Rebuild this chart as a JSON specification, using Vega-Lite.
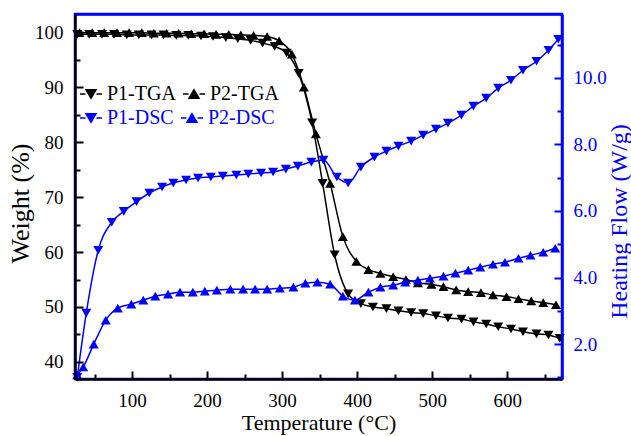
{
  "$schema": "https://vega.github.io/schema/vega-lite/v6.json",
  "width": 487,
  "height": 365,
  "autosize": {"type": "none"},
  "padding": {"left": 75, "top": 14, "right": 69, "bottom": 57},
  "background": "white",
  "config": {
    "view": {"stroke": "#0000ff", "strokeWidth": 2.5},
    "font": "Liberation Serif",
    "axis": {"grid": false, "labelFont": "Liberation Serif", "titleFont": "Liberation Serif", "labelFontSize": 19, "titleFontWeight": "normal", "domainWidth": 2.5, "tickWidth": 2},
    "legend": {"orient": "none", "direction": "horizontal", "labelFont": "Liberation Serif", "labelFontSize": 20, "symbolSize": 100, "symbolStrokeWidth": 1.5, "labelOffset": 6, "columnPadding": 4, "padding": 0}
  },
  "datasets": {
    "tga": [
      {"s": "P1-TGA", "T": 27, "v": 99.6}, {"s": "P1-TGA", "T": 43, "v": 99.6}, {"s": "P1-TGA", "T": 60, "v": 99.6}, {"s": "P1-TGA", "T": 76, "v": 99.6}, {"s": "P1-TGA", "T": 93, "v": 99.5}, {"s": "P1-TGA", "T": 109, "v": 99.5}, {"s": "P1-TGA", "T": 126, "v": 99.5}, {"s": "P1-TGA", "T": 142, "v": 99.5}, {"s": "P1-TGA", "T": 159, "v": 99.4}, {"s": "P1-TGA", "T": 175, "v": 99.4}, {"s": "P1-TGA", "T": 192, "v": 99.3}, {"s": "P1-TGA", "T": 208, "v": 99.2}, {"s": "P1-TGA", "T": 225, "v": 99.0}, {"s": "P1-TGA", "T": 241, "v": 98.8}, {"s": "P1-TGA", "T": 258, "v": 98.5}, {"s": "P1-TGA", "T": 274, "v": 98.0}, {"s": "P1-TGA", "T": 290, "v": 97.4}, {"s": "P1-TGA", "T": 306, "v": 96.2}, {"s": "P1-TGA", "T": 322, "v": 92.5}, {"s": "P1-TGA", "T": 340, "v": 83.5}, {"s": "P1-TGA", "T": 354, "v": 72.5}, {"s": "P1-TGA", "T": 370, "v": 59.5}, {"s": "P1-TGA", "T": 388, "v": 52.4}, {"s": "P1-TGA", "T": 405, "v": 50.6}, {"s": "P1-TGA", "T": 421, "v": 50.0}, {"s": "P1-TGA", "T": 439, "v": 49.7}, {"s": "P1-TGA", "T": 455, "v": 49.3}, {"s": "P1-TGA", "T": 472, "v": 49.0}, {"s": "P1-TGA", "T": 488, "v": 48.8}, {"s": "P1-TGA", "T": 505, "v": 48.4}, {"s": "P1-TGA", "T": 521, "v": 48.0}, {"s": "P1-TGA", "T": 539, "v": 47.8}, {"s": "P1-TGA", "T": 555, "v": 47.3}, {"s": "P1-TGA", "T": 572, "v": 46.9}, {"s": "P1-TGA", "T": 588, "v": 46.4}, {"s": "P1-TGA", "T": 605, "v": 46.0}, {"s": "P1-TGA", "T": 621, "v": 45.5}, {"s": "P1-TGA", "T": 639, "v": 45.1}, {"s": "P1-TGA", "T": 655, "v": 44.9}, {"s": "P1-TGA", "T": 670, "v": 44.3},
      {"s": "P2-TGA", "T": 30, "v": 99.9}, {"s": "P2-TGA", "T": 47, "v": 99.9}, {"s": "P2-TGA", "T": 63, "v": 99.9}, {"s": "P2-TGA", "T": 80, "v": 99.9}, {"s": "P2-TGA", "T": 96, "v": 99.9}, {"s": "P2-TGA", "T": 113, "v": 99.9}, {"s": "P2-TGA", "T": 129, "v": 99.8}, {"s": "P2-TGA", "T": 146, "v": 99.8}, {"s": "P2-TGA", "T": 162, "v": 99.8}, {"s": "P2-TGA", "T": 179, "v": 99.7}, {"s": "P2-TGA", "T": 196, "v": 99.7}, {"s": "P2-TGA", "T": 212, "v": 99.6}, {"s": "P2-TGA", "T": 229, "v": 99.6}, {"s": "P2-TGA", "T": 245, "v": 99.5}, {"s": "P2-TGA", "T": 262, "v": 99.4}, {"s": "P2-TGA", "T": 280, "v": 99.2}, {"s": "P2-TGA", "T": 296, "v": 98.4}, {"s": "P2-TGA", "T": 313, "v": 96.0}, {"s": "P2-TGA", "T": 329, "v": 90.0}, {"s": "P2-TGA", "T": 345, "v": 81.5}, {"s": "P2-TGA", "T": 364, "v": 72.5}, {"s": "P2-TGA", "T": 381, "v": 62.8}, {"s": "P2-TGA", "T": 399, "v": 58.3}, {"s": "P2-TGA", "T": 415, "v": 56.8}, {"s": "P2-TGA", "T": 431, "v": 56.1}, {"s": "P2-TGA", "T": 448, "v": 55.5}, {"s": "P2-TGA", "T": 465, "v": 55.0}, {"s": "P2-TGA", "T": 481, "v": 54.4}, {"s": "P2-TGA", "T": 499, "v": 54.1}, {"s": "P2-TGA", "T": 515, "v": 53.7}, {"s": "P2-TGA", "T": 532, "v": 53.1}, {"s": "P2-TGA", "T": 548, "v": 52.8}, {"s": "P2-TGA", "T": 565, "v": 52.6}, {"s": "P2-TGA", "T": 581, "v": 52.2}, {"s": "P2-TGA", "T": 599, "v": 51.9}, {"s": "P2-TGA", "T": 615, "v": 51.5}, {"s": "P2-TGA", "T": 632, "v": 51.1}, {"s": "P2-TGA", "T": 648, "v": 50.8}, {"s": "P2-TGA", "T": 665, "v": 50.4}
    ],
    "dsc": [
      {"s": "P1-DSC", "T": 27, "v": 1.0}, {"s": "P1-DSC", "T": 39, "v": 2.93}, {"s": "P1-DSC", "T": 55, "v": 4.82}, {"s": "P1-DSC", "T": 73, "v": 5.66}, {"s": "P1-DSC", "T": 89, "v": 5.99}, {"s": "P1-DSC", "T": 106, "v": 6.28}, {"s": "P1-DSC", "T": 123, "v": 6.54}, {"s": "P1-DSC", "T": 140, "v": 6.72}, {"s": "P1-DSC", "T": 155, "v": 6.84}, {"s": "P1-DSC", "T": 172, "v": 6.93}, {"s": "P1-DSC", "T": 188, "v": 6.99}, {"s": "P1-DSC", "T": 205, "v": 7.02}, {"s": "P1-DSC", "T": 221, "v": 7.05}, {"s": "P1-DSC", "T": 239, "v": 7.08}, {"s": "P1-DSC", "T": 255, "v": 7.11}, {"s": "P1-DSC", "T": 272, "v": 7.14}, {"s": "P1-DSC", "T": 288, "v": 7.17}, {"s": "P1-DSC", "T": 305, "v": 7.26}, {"s": "P1-DSC", "T": 321, "v": 7.35}, {"s": "P1-DSC", "T": 339, "v": 7.47}, {"s": "P1-DSC", "T": 355, "v": 7.53}, {"s": "P1-DSC", "T": 373, "v": 7.02}, {"s": "P1-DSC", "T": 388, "v": 6.84}, {"s": "P1-DSC", "T": 405, "v": 7.32}, {"s": "P1-DSC", "T": 423, "v": 7.62}, {"s": "P1-DSC", "T": 439, "v": 7.8}, {"s": "P1-DSC", "T": 455, "v": 7.95}, {"s": "P1-DSC", "T": 472, "v": 8.1}, {"s": "P1-DSC", "T": 488, "v": 8.28}, {"s": "P1-DSC", "T": 505, "v": 8.46}, {"s": "P1-DSC", "T": 521, "v": 8.64}, {"s": "P1-DSC", "T": 539, "v": 8.88}, {"s": "P1-DSC", "T": 555, "v": 9.15}, {"s": "P1-DSC", "T": 572, "v": 9.39}, {"s": "P1-DSC", "T": 588, "v": 9.69}, {"s": "P1-DSC", "T": 605, "v": 9.93}, {"s": "P1-DSC", "T": 621, "v": 10.23}, {"s": "P1-DSC", "T": 639, "v": 10.5}, {"s": "P1-DSC", "T": 655, "v": 10.83}, {"s": "P1-DSC", "T": 668, "v": 11.16},
      {"s": "P2-DSC", "T": 27, "v": 1.07}, {"s": "P2-DSC", "T": 35, "v": 1.31}, {"s": "P2-DSC", "T": 49, "v": 2.0}, {"s": "P2-DSC", "T": 65, "v": 2.72}, {"s": "P2-DSC", "T": 81, "v": 3.08}, {"s": "P2-DSC", "T": 99, "v": 3.2}, {"s": "P2-DSC", "T": 115, "v": 3.32}, {"s": "P2-DSC", "T": 131, "v": 3.44}, {"s": "P2-DSC", "T": 148, "v": 3.5}, {"s": "P2-DSC", "T": 164, "v": 3.56}, {"s": "P2-DSC", "T": 181, "v": 3.56}, {"s": "P2-DSC", "T": 197, "v": 3.59}, {"s": "P2-DSC", "T": 213, "v": 3.62}, {"s": "P2-DSC", "T": 231, "v": 3.65}, {"s": "P2-DSC", "T": 248, "v": 3.65}, {"s": "P2-DSC", "T": 264, "v": 3.65}, {"s": "P2-DSC", "T": 280, "v": 3.65}, {"s": "P2-DSC", "T": 297, "v": 3.68}, {"s": "P2-DSC", "T": 315, "v": 3.71}, {"s": "P2-DSC", "T": 331, "v": 3.83}, {"s": "P2-DSC", "T": 347, "v": 3.86}, {"s": "P2-DSC", "T": 364, "v": 3.8}, {"s": "P2-DSC", "T": 381, "v": 3.44}, {"s": "P2-DSC", "T": 397, "v": 3.32}, {"s": "P2-DSC", "T": 415, "v": 3.56}, {"s": "P2-DSC", "T": 431, "v": 3.71}, {"s": "P2-DSC", "T": 448, "v": 3.77}, {"s": "P2-DSC", "T": 464, "v": 3.86}, {"s": "P2-DSC", "T": 481, "v": 3.92}, {"s": "P2-DSC", "T": 497, "v": 3.98}, {"s": "P2-DSC", "T": 515, "v": 4.04}, {"s": "P2-DSC", "T": 531, "v": 4.13}, {"s": "P2-DSC", "T": 548, "v": 4.22}, {"s": "P2-DSC", "T": 564, "v": 4.31}, {"s": "P2-DSC", "T": 581, "v": 4.4}, {"s": "P2-DSC", "T": 597, "v": 4.46}, {"s": "P2-DSC", "T": 615, "v": 4.58}, {"s": "P2-DSC", "T": 631, "v": 4.67}, {"s": "P2-DSC", "T": 648, "v": 4.76}, {"s": "P2-DSC", "T": 664, "v": 4.88}
    ]
  },
  "layer": [
    {
      "data": {"name": "tga"},
      "encoding": {
        "x": {"field": "T", "type": "quantitative", "scale": {"domain": [24, 673], "nice": false, "zero": false},
          "axis": {"orient": "bottom", "title": "Temperature (°C)", "titleFontSize": 22, "titleColor": "black", "values": [100, 200, 300, 400, 500, 600], "ticks": false, "labelPadding": 12, "domainColor": "black", "labelColor": "black", "titlePadding": 2, "zindex": 4}},
        "y": {"field": "v", "type": "quantitative", "scale": {"domain": [36.9, 103.3], "nice": false, "zero": false},
          "axis": {"orient": "left", "title": "Weight (%)", "titleFontSize": 26, "titleColor": "black", "titleX": -42, "titleY": 189, "values": [40, 50, 60, 70, 80, 90, 100], "ticks": false, "labelPadding": 12, "domainColor": "black", "labelColor": "black", "zindex": 4}}
      },
      "layer": [
        {"mark": {"type": "line", "interpolate": "monotone", "strokeWidth": 1.5},
          "encoding": {"color": {"field": "s", "type": "nominal", "scale": {"domain": ["P1-TGA", "P2-TGA"], "range": ["black", "black"]},
            "legend": {"title": null, "legendX": 6, "legendY": 70, "labelColor": "black", "symbolFillColor": "black", "zindex": 6}}}},
        {"mark": {"type": "point", "filled": true, "size": 100, "color": "black", "opacity": 1},
          "encoding": {"shape": {"field": "s", "type": "nominal",
            "scale": {"domain": ["P1-TGA", "P2-TGA"], "range": ["M-2.2,0L-1.1,0M1.1,0L2.2,0M-1,-0.866L1,-0.866L0,0.866Z", "M-2.2,0L-1.1,0M1.1,0L2.2,0M0,-0.866L-1,0.866L1,0.866Z"]},
            "legend": {"title": null, "legendX": 6, "legendY": 70, "labelColor": "black", "symbolFillColor": "black", "zindex": 6}}}}
      ]
    },
    {
      "data": {"name": "dsc"},
      "encoding": {
        "x": {"field": "T", "type": "quantitative", "scale": {"domain": [24, 673], "nice": false, "zero": false},
          "axis": {"orient": "top", "title": null, "labels": false, "ticks": false, "domainColor": "#0000ff", "zindex": 4}},
        "y": {"field": "v", "type": "quantitative", "scale": {"domain": [0.95, 11.92], "nice": false, "zero": false},
          "axis": {"orient": "right", "title": "Heating Flow (W/g)", "titleFontSize": 24, "titleColor": "#0000ff", "titleAngle": 270, "titleBaseline": "top", "titleX": 45, "titleY": 207, "values": [2, 4, 6, 8, 10], "format": ".1f", "ticks": false, "labelPadding": 11, "domainColor": "#0000ff", "labelColor": "#0000ff", "zindex": 4}}
      },
      "layer": [
        {"mark": {"type": "line", "interpolate": "monotone", "strokeWidth": 1.5},
          "encoding": {"color": {"field": "s", "type": "nominal", "scale": {"domain": ["P1-DSC", "P2-DSC"], "range": ["#0000ff", "#0000ff"]},
            "legend": {"title": null, "legendX": 6, "legendY": 94, "labelColor": "#0000ff", "symbolFillColor": "#0000ff", "zindex": 6}}}},
        {"mark": {"type": "point", "filled": true, "size": 100, "color": "#0000ff", "opacity": 1},
          "encoding": {"shape": {"field": "s", "type": "nominal",
            "scale": {"domain": ["P1-DSC", "P2-DSC"], "range": ["M-2.2,0L-1.1,0M1.1,0L2.2,0M-1,-0.866L1,-0.866L0,0.866Z", "M-2.2,0L-1.1,0M1.1,0L2.2,0M0,-0.866L-1,0.866L1,0.866Z"]},
            "legend": {"title": null, "legendX": 6, "legendY": 94, "labelColor": "#0000ff", "symbolFillColor": "#0000ff", "zindex": 6}}}}
      ]
    },
    {
      "data": {"name": "tga"},
      "mark": {"type": "point", "opacity": 0},
      "encoding": {
        "x": {"field": "T", "type": "quantitative", "scale": {"domain": [24, 673], "nice": false, "zero": false},
          "axis": {"orient": "bottom", "title": null, "labels": false, "domain": false, "ticks": true, "values": [100, 200, 300, 400, 500, 600], "tickSize": 8, "offset": -8, "tickColor": "black", "zindex": 5}},
        "y": {"field": "v", "type": "quantitative", "scale": {"domain": [36.9, 103.3], "nice": false, "zero": false},
          "axis": {"orient": "left", "title": null, "labels": false, "domain": false, "ticks": true, "values": [40, 50, 60, 70, 80, 90, 100], "tickSize": 8, "offset": -8, "tickColor": "black", "zindex": 5}}
      }
    },
    {
      "data": {"name": "tga"},
      "mark": {"type": "point", "opacity": 0},
      "encoding": {
        "x": {"field": "T", "type": "quantitative", "scale": {"domain": [24, 673], "nice": false, "zero": false},
          "axis": {"orient": "bottom", "title": null, "labels": false, "domain": false, "ticks": true, "values": [50, 150, 250, 350, 450, 550, 650], "tickSize": 5, "offset": -5, "tickColor": "black", "zindex": 5}},
        "y": {"field": "v", "type": "quantitative", "scale": {"domain": [36.9, 103.3], "nice": false, "zero": false},
          "axis": {"orient": "left", "title": null, "labels": false, "domain": false, "ticks": true, "values": [45, 55, 65, 75, 85, 95], "tickSize": 5, "offset": -5, "tickColor": "black", "zindex": 5}}
      }
    },
    {
      "data": {"name": "dsc"},
      "mark": {"type": "point", "opacity": 0},
      "encoding": {
        "x": {"field": "T", "type": "quantitative", "scale": {"domain": [24, 673], "nice": false, "zero": false}, "axis": null},
        "y": {"field": "v", "type": "quantitative", "scale": {"domain": [0.95, 11.92], "nice": false, "zero": false},
          "axis": {"orient": "right", "title": null, "labels": false, "domain": false, "ticks": true, "values": [2, 4, 6, 8, 10], "tickSize": 8, "offset": -8, "tickColor": "#0000ff", "zindex": 5}}
      }
    },
    {
      "data": {"name": "dsc"},
      "mark": {"type": "point", "opacity": 0},
      "encoding": {
        "x": {"field": "T", "type": "quantitative", "scale": {"domain": [24, 673], "nice": false, "zero": false}, "axis": null},
        "y": {"field": "v", "type": "quantitative", "scale": {"domain": [0.95, 11.92], "nice": false, "zero": false},
          "axis": {"orient": "right", "title": null, "labels": false, "domain": false, "ticks": true, "values": [1, 3, 5, 7, 9, 11], "tickSize": 5, "offset": -5, "tickColor": "#0000ff", "zindex": 5}}
      }
    }
  ],
  "resolve": {"scale": {"y": "independent", "shape": "independent", "color": "independent"}, "axis": {"x": "independent"}}
}
